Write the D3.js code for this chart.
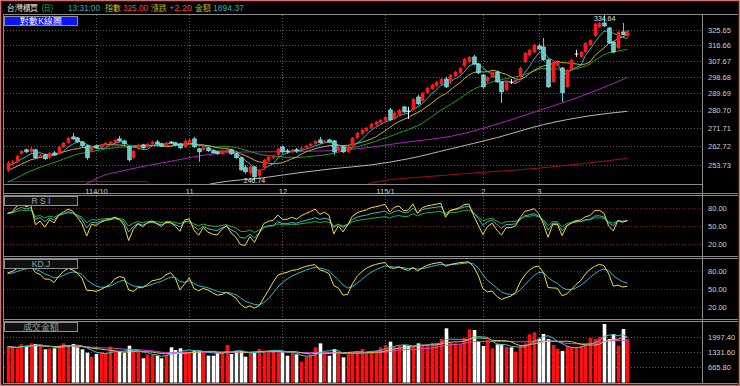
<!DOCTYPE html>
<html>
<head>
<meta charset="utf-8">
<script src="https://cdn.jsdelivr.net/npm/d3@7/dist/d3.min.js"></script>
<style>
  html, body { margin: 0; padding: 0; background: #000; }
  svg { display: block; }
  text { font-family: "Liberation Sans", Arial, sans-serif; }
</style>
</head>
<body>
<svg id="chart" width="740" height="386"></svg>
<script>
// ---- values: 台灣櫃買 daily, 134 sessions ----
const opens = [
  251.6, 254.9, 255.4, 259.2, 261.1, 260.1, 261.1, 257.7, 258.7, 257.3,
  259.6, 259.2, 262.5, 264.5, 267.4, 266.9, 264.9, 263.0, 260.6, 263.0,
  262.0, 263.5, 264.0, 264.5, 266.4, 265.4, 262.5, 257.3, 261.6, 263.5,
  262.5, 264.0, 264.9, 264.0, 263.0, 264.9, 264.5, 264.0, 262.5, 264.5,
  266.4, 261.6, 261.1, 262.0, 260.6, 260.1, 259.2, 260.6, 261.1, 259.2,
  257.3, 252.6, 250.2, 253.0, 248.9, 252.6, 255.8, 257.3, 258.7, 262.5,
  260.6, 260.1, 261.1, 261.1, 262.0, 263.0, 264.0, 265.9, 264.9, 265.9,
  265.4, 261.1, 262.5, 260.1, 263.0, 266.9, 268.9, 270.4, 271.9, 273.4,
  274.4, 275.4, 281.0, 276.4, 278.4, 282.6, 280.6, 281.0, 287.8, 285.7,
  290.0, 292.1, 293.7, 294.8, 297.5, 296.4, 299.2, 300.9, 304.8, 307.0,
  309.9, 305.9, 299.7, 296.4, 298.6, 301.4, 295.9, 291.6, 296.0, 295.9,
  298.6, 307.0, 311.0, 312.7, 316.2, 315.6, 308.2, 295.9, 305.3, 303.6,
  293.2, 302.5, 311.6, 309.9, 312.7, 316.8, 322.1, 327.5, 329.9, 326.9,
  318.5, 315.0, 324.5, 322.1
];
const highs = [
  255.8, 256.3, 258.7, 261.1, 261.6, 262.5, 261.6, 259.2, 259.2, 260.1,
  260.6, 263.0, 264.9, 267.4, 269.4, 267.4, 265.4, 263.5, 263.0, 263.5,
  264.0, 264.9, 265.4, 266.4, 267.9, 265.9, 263.0, 261.1, 264.0, 264.0,
  264.5, 265.4, 265.9, 264.5, 264.9, 265.4, 264.9, 264.5, 266.4, 266.4,
  267.4, 262.0, 263.0, 262.5, 261.1, 260.6, 261.1, 262.5, 261.6, 259.6,
  257.7, 253.9, 253.5, 253.5, 252.1, 256.8, 258.2, 258.7, 262.0, 263.0,
  261.6, 261.6, 262.0, 262.5, 263.5, 264.5, 265.9, 267.4, 265.9, 266.4,
  265.9, 263.0, 263.0, 263.0, 267.4, 269.9, 271.4, 272.4, 274.4, 275.4,
  276.4, 277.9, 282.1, 280.0, 281.5, 283.1, 282.6, 287.3, 288.9, 290.5,
  293.2, 294.8, 296.5, 298.1, 298.6, 300.3, 302.0, 304.2, 309.3, 310.4,
  311.0, 306.4, 300.3, 299.2, 302.0, 302.0, 296.4, 296.4, 297.5, 297.5,
  304.2, 312.7, 314.4, 317.4, 317.4, 320.9, 308.7, 307.6, 308.2, 304.2,
  303.1, 308.7, 313.9, 313.3, 318.5, 320.3, 329.9, 330.5, 334.64, 327.5,
  319.1, 325.1, 329.9, 325.7
];
const lows = [
  250.7, 253.9, 254.9, 258.7, 259.6, 259.6, 256.8, 257.3, 256.3, 256.8,
  258.2, 258.7, 262.0, 264.0, 265.9, 264.5, 262.5, 256.3, 260.1, 261.6,
  261.6, 263.0, 263.5, 264.0, 264.9, 263.5, 255.4, 256.8, 261.1, 261.6,
  262.0, 263.5, 263.5, 262.5, 262.5, 264.0, 263.0, 261.6, 262.0, 264.0,
  262.0, 255.4, 260.6, 260.1, 259.2, 258.7, 258.7, 260.1, 258.7, 256.8,
  251.2, 249.8, 249.3, 246.74, 247.9, 251.6, 255.4, 256.8, 258.2, 259.6,
  259.2, 259.6, 259.6, 260.6, 261.6, 262.5, 263.5, 264.0, 264.5, 264.5,
  258.7, 260.6, 259.6, 259.6, 262.5, 266.4, 268.4, 269.9, 271.4, 272.9,
  273.9, 274.9, 275.4, 275.9, 277.9, 279.5, 276.4, 280.5, 283.6, 285.2,
  289.4, 291.6, 293.2, 294.3, 292.7, 294.8, 298.6, 300.3, 304.2, 306.4,
  305.3, 300.3, 292.1, 294.8, 298.1, 295.4, 284.7, 291.0, 294.8, 295.4,
  298.1, 306.4, 310.4, 312.1, 313.9, 307.6, 292.7, 295.4, 304.8, 285.2,
  292.7, 302.0, 309.9, 309.3, 312.1, 316.2, 321.5, 326.9, 327.5, 317.4,
  312.1, 314.5, 322.7, 320.9
];
const closes = [
  254.9, 255.4, 258.2, 260.6, 260.1, 261.6, 257.3, 258.7, 256.8, 259.6,
  258.7, 262.5, 264.5, 266.9, 266.4, 264.9, 263.0, 257.3, 262.5, 262.0,
  263.5, 264.5, 264.9, 265.9, 265.4, 264.0, 256.3, 260.6, 263.5, 262.0,
  264.0, 264.9, 264.0, 263.0, 264.5, 264.5, 263.5, 262.0, 265.4, 265.9,
  262.5, 260.1, 262.5, 260.6, 259.6, 259.2, 260.6, 261.6, 259.2, 257.3,
  251.6, 250.7, 253.0, 248.4, 251.6, 256.3, 257.7, 258.2, 261.6, 260.1,
  260.1, 261.1, 260.6, 262.0, 263.0, 264.0, 265.4, 264.5, 265.4, 264.9,
  260.1, 262.5, 260.1, 262.5, 266.9, 269.4, 270.9, 271.9, 273.9, 274.9,
  275.9, 277.4, 275.9, 279.5, 281.0, 280.0, 280.4, 286.8, 284.2, 290.0,
  292.7, 294.3, 295.9, 297.5, 293.2, 299.7, 301.4, 303.6, 308.7, 309.9,
  305.9, 300.9, 293.2, 298.6, 301.4, 295.9, 290.5, 295.9, 295.9, 297.0,
  303.6, 312.1, 313.9, 316.8, 314.4, 308.2, 293.2, 307.0, 307.0, 290.0,
  302.5, 308.2, 311.8, 312.7, 317.9, 319.7, 329.3, 329.9, 328.1, 317.9,
  312.7, 324.5, 322.8, 325.0
];
// 成交金額 (億)
const volumes = [
  1563, 1534, 1491, 1665, 1607, 1708, 1679, 1592, 1447, 1491,
  1491, 1592, 1708, 1636, 1679, 1534, 1447, 1302, 1128, 1244,
  1317, 1273, 1563, 1346, 1346, 1302, 1607, 1346, 1346, 1056,
  1230, 1201, 1172, 1056, 1201, 1534, 1418, 1491, 1346, 1317,
  1389, 1389, 1346, 1172, 1172, 1317, 1317, 1636, 1244, 1375,
  1375, 1128, 1346, 1302, 1462, 1389, 1389, 1418, 1389, 1317,
  1172, 1317, 1230, 911, 1128, 1201, 1534, 1708, 1273, 1172,
  1462, 1317, 1099, 1230, 1273, 1346, 1462, 1346, 1346, 1375,
  1534, 1636, 1781, 1563, 1592, 1636, 1607, 1563, 1708, 1636,
  1636, 1737, 1708, 1897, 2361, 1752, 1708, 1665, 1926, 2317,
  2288, 1810, 1592, 1853, 1491, 1665, 1679, 1563, 1534, 1346,
  1607, 1708, 2100, 2187, 1897, 2114, 1897, 1636, 1462, 1375,
  1607, 1563, 1563, 1607, 1665, 1955, 1897, 1998, 2549, 1897,
  2114, 1607, 2332, 1894.37
];
// closes before the first visible session (estimated from where the MA lines start)
const preCloses = [236.0, 237.5, 238.3, 239.2, 240.0, 241.0, 241.8, 242.6, 243.5, 245.0,
  246.8, 248.3, 249.5, 250.4, 251.2, 252.0, 252.8, 253.5, 254.0];
// long moving averages as [session, value]
const ma60 = [[14, 243.0], [17, 245.2], [20, 248.5], [25, 251.3], [31, 254.0], [36, 256.0], [40, 257.7],
  [45, 259.3], [50, 260.0], [59, 260.2], [70, 260.7], [78, 262.3], [84, 264.3], [90, 266.0], [95, 267.6],
  [100, 270.3], [108, 275.9], [115, 281.5], [120, 285.5], [125, 290.0], [129, 294.0], [133, 298.4]];
const ma120 = [[40, 243.5], [45, 245.7], [55, 248.0], [63, 250.4], [70, 252.2], [78, 253.9], [86, 256.8],
  [95, 261.5], [105, 267.0], [115, 273.5], [125, 278.0], [133, 280.3]];
const ma240 = [[0, 246.2], [30, 246.2], [31, 244.0], [76, 244.0], [78, 245.6], [95, 249.3], [114, 252.4], [133, 257.0]];

const monthTickIdx = [19, 39, 59, 81, 102, 114];
const monthTickLabels = ['114/10', '11', '12', '115/1', '2', '3'];
const priceTicks = [325.65, 316.66, 307.67, 298.68, 289.69, 280.70, 271.71, 262.72, 253.73];
const oscTicks = [80, 50, 20];
const volTicks = [1997.40, 1331.60, 665.80];

// title bar pieces: text, colour, left x, width
const titleParts = [
  ['台灣櫃買', '#f0f0f0', 7, 31], ['(日)', '#20c040', 42, 11], ['13:31:00', '#20b0b0', 68, 32],
  ['指數', '#c0c030', 105, 16], ['325.00', '#ff4040', 123, 25], ['漲跌', '#c0c030', 151, 16],
  ['+2.20', '#ff4040', 169, 23], ['金額', '#c0c030', 195, 16], ['1894.37', '#20b0b0', 213, 31]
];

const N = closes.length;
const svg = d3.select('#chart');

// ---- scales ----
const AX = 702;   // right axis line
const x = d3.scaleLinear().domain([0, N - 1]).range([7.5, 627.3]);
const yP = d3.scaleLog().domain([253.73, 325.65]).range([165.3, 30]);
const yR = d3.scaleLinear().domain([20, 80]).range([243.7, 208.3]);
const yK = d3.scaleLinear().domain([20, 80]).range([307, 271.3]);
const yV = d3.scaleLinear().domain([0, 1997.4]).range([382.6, 336.7]);

const panels = {
  main: [15, 184],
  rsi: [196, 256],
  kd: [259, 319],
  vol: [322, 383]
};

// ---- frame ----
svg.append('rect').attr('width', 740).attr('height', 386).attr('fill', '#000');
svg.append('rect').attr('x', 0.5).attr('y', 0.5).attr('width', 739).attr('height', 385)
  .attr('fill', 'none').attr('stroke', '#d07070').attr('stroke-width', 1.5);

const defs = svg.append('defs');
Object.entries(panels).forEach(([k, [t, b]]) => {
  defs.append('clipPath').attr('id', 'clip-' + k)
    .append('rect').attr('x', 4).attr('y', t).attr('width', AX - 4).attr('height', b - t);
});

const gray = '#8a8a8a';
function hline(y, x1, x2, c) {
  svg.append('line').attr('x1', x1).attr('x2', x2).attr('y1', y).attr('y2', y)
    .attr('stroke', c || gray).attr('shape-rendering', 'crispEdges');
}
hline(14.5, 3, 738);
hline(184.5, 4, AX);
hline(193.5, 3, 738); hline(195.5, 3, 738);
hline(256.5, 3, 738); hline(258.5, 3, 738);
hline(319.5, 3, 738); hline(321.5, 3, 738);
hline(383.5, 3, 738);
svg.append('line').attr('x1', AX + 0.5).attr('x2', AX + 0.5).attr('y1', 14).attr('y2', 384)
  .attr('stroke', gray).attr('shape-rendering', 'crispEdges');
svg.append('line').attr('x1', 3.5).attr('x2', 3.5).attr('y1', 14).attr('y2', 384)
  .attr('stroke', gray).attr('shape-rendering', 'crispEdges');

// ---- grids ----
const grid = svg.append('g').attr('shape-rendering', 'crispEdges');
function dotted(g, y, color) {
  g.append('line').attr('x1', 4).attr('x2', AX).attr('y1', Math.round(y) + 0.5).attr('y2', Math.round(y) + 0.5)
    .attr('stroke', color).attr('stroke-dasharray', '1,2');
}
priceTicks.forEach(v => dotted(grid, yP(v), '#5a5a5a'));
oscTicks.forEach(v => { dotted(grid, yR(v), '#8a1010'); dotted(grid, yK(v), '#8a1010'); });
volTicks.forEach(v => dotted(grid, yV(v), '#5a5a5a'));
Object.values(panels).forEach(([t, b]) => {
  monthTickIdx.forEach(i => {
    grid.append('line').attr('x1', Math.round(x(i)) + 0.5).attr('x2', Math.round(x(i)) + 0.5)
      .attr('y1', t).attr('y2', b).attr('stroke', '#5a5a5a').attr('stroke-dasharray', '1,2');
  });
});

// ---- axes ----
function rightAxis(scale, ticks) {
  const g = svg.append('g').attr('transform', `translate(${AX + 3},0)`)
    .call(d3.axisRight(scale).tickValues(ticks).tickFormat(d3.format('.2f')).tickSize(0));
  g.select('.domain').remove();
  g.selectAll('text').attr('fill', '#d0d0d0').attr('font-size', 7.5).attr('dx', 0);
}
rightAxis(yP, priceTicks);
rightAxis(yR, oscTicks);
rightAxis(yK, oscTicks);
rightAxis(yV, volTicks);

const xa = svg.append('g').attr('transform', 'translate(0,185)')
  .call(d3.axisBottom(x).tickValues(monthTickIdx).tickFormat((d, i) => monthTickLabels[i]).tickSize(0));
xa.select('.domain').remove();
xa.selectAll('text').attr('fill', '#d0d0d0').attr('font-size', 7.5).attr('dy', '0.75em');

// ---- helpers ----
function sma(arr, n, pre) {
  const all = (pre || []).concat(arr);
  const off = all.length - arr.length;
  return arr.map((_, i) => {
    const s = Math.max(0, off + i - n + 1);
    const w = all.slice(s, off + i + 1);
    return d3.mean(w);
  });
}
function drawLine(g, vals, yScale, color, clip) {
  g.append('path').datum(vals)
    .attr('clip-path', `url(#clip-${clip})`)
    .attr('fill', 'none').attr('stroke', color).attr('stroke-width', 1)
    .attr('d', d3.line().x((d, i) => x(i)).y(d => yScale(d)));
}
function drawSparse(g, pts, color) {
  g.append('path').datum(pts)
    .attr('clip-path', 'url(#clip-main)')
    .attr('fill', 'none').attr('stroke', color).attr('stroke-width', 1)
    .attr('d', d3.line().x(d => x(d[0])).y(d => yP(d[1])).curve(d3.curveMonotoneX));
}

// ---- main panel ----
const main = svg.append('g');
drawSparse(main, ma240, '#a01010');
drawSparse(main, ma120, '#b8b8b8');
drawSparse(main, ma60, '#b020c0');
drawLine(main, sma(closes, 20, preCloses), yP, '#20a020', 'main');
drawLine(main, sma(closes, 10, preCloses), yP, '#c8b040', 'main');
drawLine(main, sma(closes, 5, preCloses), yP, '#30b8c8', 'main');

const bw = 3.6;
const isUp = i => closes[i] >= opens[i];
const isDoji = i => Math.abs(closes[i] - opens[i]) < 0.25;
const candleColor = i => isDoji(i) ? '#ffffff' : (isUp(i) ? '#ff1818' : '#40d8e0');
const cg = main.append('g').attr('clip-path', 'url(#clip-main)');
const cs = cg.selectAll('g').data(d3.range(N)).join('g');
cs.append('line')
  .attr('x1', i => Math.round(x(i)) + 0.5).attr('x2', i => Math.round(x(i)) + 0.5)
  .attr('y1', i => yP(highs[i])).attr('y2', i => yP(lows[i]))
  .attr('stroke', candleColor);
cs.append('rect')
  .attr('x', i => Math.round(x(i)) + 0.5 - bw / 2).attr('width', bw)
  .attr('y', i => yP(Math.max(opens[i], closes[i])))
  .attr('height', i => Math.max(1, yP(Math.min(opens[i], closes[i])) - yP(Math.max(opens[i], closes[i]))))
  .attr('fill', i => isDoji(i) ? '#ffffff' : (isUp(i) ? '#ff1818' : '#6cc8c8'))
  .attr('stroke', i => isDoji(i) ? 'none' : (isUp(i) ? 'none' : '#a0f0f0'))
  .attr('stroke-width', 0.6);

// extreme labels
const hiI = d3.maxIndex(highs), loI = d3.minIndex(lows);
main.append('text').attr('x', x(hiI) - 10).attr('y', yP(highs[hiI]) + 6)
  .attr('fill', '#e0e0e0').attr('font-size', 7).text(d3.format('.2f')(highs[hiI]));
main.append('text').attr('x', x(loI)).attr('y', yP(lows[loI]) + 3).attr('text-anchor', 'middle')
  .attr('fill', '#e0e0e0').attr('font-size', 7).text(d3.format('.2f')(lows[loI]));

// ---- RSI ----
function rsi(n) {
  let up = 0.75, dn = 0.3;
  return closes.map((c, i) => {
    if (i > 0) {
      const d = c - closes[i - 1];
      up += (Math.max(d, 0) - up) / n;
      dn += (Math.max(-d, 0) - dn) / n;
    }
    return 100 * up / (up + dn);
  });
}
const rsiG = svg.append('g');
drawLine(rsiG, rsi(24), yR, '#30b030', 'rsi');
drawLine(rsiG, rsi(12), yR, '#30c0c8', 'rsi');
drawLine(rsiG, rsi(6), yR, '#f0e040', 'rsi');

// ---- KD ----
const kVals = [], dVals = [];
let K = 75, D = 75;
closes.forEach((c, i) => {
  const s = Math.max(0, i - 8);
  const hh = d3.max(highs.slice(s, i + 1)), ll = d3.min(lows.slice(s, i + 1));
  const rsv = hh === ll ? 50 : 100 * (c - ll) / (hh - ll);
  K = K * 2 / 3 + rsv / 3;
  D = D * 2 / 3 + K / 3;
  kVals.push(K); dVals.push(D);
});
const kdG = svg.append('g');
drawLine(kdG, dVals, yK, '#30b8d0', 'kd');
drawLine(kdG, kVals, yK, '#f0e040', 'kd');

// ---- volume ----
const vg = svg.append('g').attr('clip-path', 'url(#clip-vol)');
vg.selectAll('rect').data(d3.range(N)).join('rect')
  .attr('x', i => Math.round(x(i)) + 0.5 - bw / 2).attr('width', bw)
  .attr('y', i => yV(volumes[i])).attr('height', i => yV(0) - yV(volumes[i]))
  .attr('fill', i => isUp(i) ? '#ff1010' : '#ffffff');
drawLine(svg, sma(volumes, 20), yV, '#e040e0', 'vol');
drawLine(svg, sma(volumes, 10), yV, '#e0c040', 'vol');
drawLine(svg, sma(volumes, 5), yV, '#30c8c8', 'vol');

// ---- panel captions ----
function caption(y, label, fill, color) {
  svg.append('rect').attr('x', 4.5).attr('y', y + 0.5).attr('width', 73).attr('height', 9.5)
    .attr('fill', fill).attr('stroke', '#909090').attr('shape-rendering', 'crispEdges');
  svg.append('text').attr('x', 41).attr('y', y + 8.6).attr('text-anchor', 'middle')
    .attr('fill', color).attr('font-size', 8.5)
    .attr('font-family', '"Liberation Serif", "Noto Sans CJK TC", serif').text(label);
}
caption(15.5, '對數K線圖', '#0a14ff', '#ffffff');
caption(195.5, 'R S I', '#101010', '#a0a0a0');
caption(258.5, 'KD.J', '#101010', '#a0a0a0');
caption(321.5, '成交金額', '#101010', '#a0a0a0');

// ---- title bar ----
titleParts.forEach(([t, c, xx, w]) => {
  svg.append('text').attr('x', xx).attr('y', 11).attr('fill', c).attr('font-size', 9)
    .attr('font-family', '"Liberation Serif", "Noto Sans CJK TC", serif')
    .attr('textLength', w).attr('lengthAdjust', 'spacingAndGlyphs').text(t);
});
</script>
</body>
</html>
